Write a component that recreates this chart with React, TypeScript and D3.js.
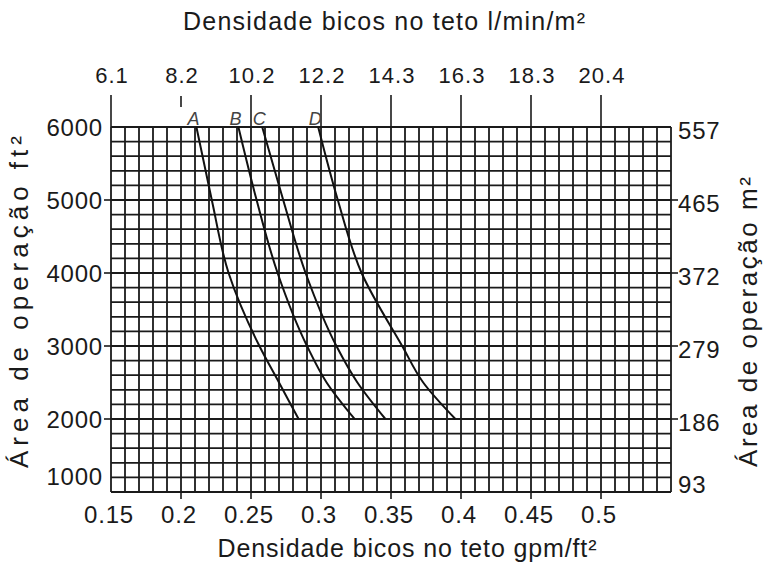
import React from "react";
import * as d3 from "d3";

// ---- data ----
const gpmTicks = [0.15, 0.2, 0.25, 0.3, 0.35, 0.4, 0.45, 0.5];
const gpmLabels = ["0.15", "0.2", "0.25", "0.3", "0.35", "0.4", "0.45", "0.5"];
const lpmLabels = ["6.1", "8.2", "10.2", "12.2", "14.3", "16.3", "18.3", "20.4"];
const areaTicks = [6000, 5000, 4000, 3000, 2000, 1000];
const areaLabels = ["6000", "5000", "4000", "3000", "2000", "1000"];
const m2Labels = ["557", "465", "372", "279", "186", "93"];

const curveNames = ["A", "B", "C", "D"];
const curveArea = [6000, 5000, 4000, 3000, 2500, 2000];
const curveA = [0.211, 0.222, 0.234, 0.256, 0.27, 0.284];
const curveB = [0.241, 0.254, 0.269, 0.29, 0.304, 0.324];
const curveC = [0.258, 0.273, 0.289, 0.311, 0.326, 0.346];
const curveD = [0.298, 0.312, 0.329, 0.358, 0.373, 0.396];
const curves = [curveA, curveB, curveC, curveD];

// ---- layout ----
const W = 767;
const H = 565;
const L = 111;
const R = 671;
const T = 127;
const B = 492;
const FONT = "'Liberation Sans', Arial, sans-serif";
const INK = "#1a1a1a";

export default function App() {
  const x = d3.scaleLinear().domain([0.15, 0.55]).range([L, R]);
  const y = d3.scaleLinear().domain([1000, 6000]).range([B, T]);

  const vGrid = d3.range(0, 41).map((i) => x(0.15 + i * 0.01));
  const hGrid = d3.range(0, 26).map((i) => y(1000 + i * 200));

  const line = d3
    .line<[number, number]>()
    .x((d) => x(d[0]))
    .y((d) => y(d[1]))
    .curve(d3.curveMonotoneY);

  return (
    <svg
      width={W}
      height={H}
      style={{ position: "absolute", left: 0, top: 0, background: "#fff" }}
      fontFamily={FONT}
    >
      <rect x={0} y={0} width={W} height={H} fill="#fff" />
      {/* grid */}
      <g stroke={INK} strokeWidth={1.8}>
        {vGrid.map((gx, i) => (
          <line key={"v" + i} x1={gx} x2={gx} y1={T} y2={B} />
        ))}
        {hGrid.map((gy, i) => (
          <line key={"h" + i} x1={L} x2={R} y1={gy} y2={gy} />
        ))}
      </g>

      {/* axis ticks */}
      <g stroke={INK} strokeWidth={1.6}>
        {gpmTicks.map((t, i) =>
          i === 1 ? (
            <line key={"tt" + i} x1={x(t)} x2={x(t)} y1={96} y2={107} />
          ) : (
            <line key={"tt" + i} x1={x(t)} x2={x(t)} y1={95} y2={T} />
          )
        )}
        {gpmTicks.slice(1).map((t, i) => (
          <line key={"bt" + i} x1={x(t)} x2={x(t)} y1={B} y2={B + 7} />
        ))}
        {areaTicks.slice(1, 5).map((t, i) => (
          <line key={"lt" + i} x1={L - 7} x2={L} y1={y(t)} y2={y(t)} />
        ))}
        {areaTicks.slice(1, 5).map((t, i) => (
          <line key={"rt" + i} x1={R} x2={R + 7} y1={y(t)} y2={y(t)} />
        ))}
      </g>

      {/* curves */}
      <g fill="none" stroke="#111" strokeWidth={2}>
        {curves.map((c, i) => (
          <path
            key={"c" + i}
            d={line(c.map((v, j) => [v, curveArea[j]] as [number, number])) || ""}
          />
        ))}
      </g>
      {curves.map((c, i) => (
        <text
          key={"n" + i}
          x={x(c[0]) - 3}
          y={125}
          fontSize={18}
          fontStyle="italic"
          fill="#444"
          textAnchor="middle"
        >
          {curveNames[i]}
        </text>
      ))}

      <g fill={INK}>
        {/* top labels */}
        {gpmTicks.map((t, i) => (
          <text key={"tl" + i} x={x(t) + 1} y={83} fontSize={22} letterSpacing={1} textAnchor="middle">
            {lpmLabels[i]}
          </text>
        ))}
        {/* bottom labels */}
        {gpmTicks.map((t, i) => (
          <text key={"bl" + i} x={x(t) - 2} y={523} fontSize={24} letterSpacing={0.8} textAnchor="middle">
            {gpmLabels[i]}
          </text>
        ))}
        {/* left labels */}
        {areaTicks.map((t, i) => (
          <text
            key={"ll" + i}
            x={103}
            y={Math.min(y(t), B - 16) + 9}
            fontSize={24}
            letterSpacing={0.8}
            textAnchor="end"
          >
            {areaLabels[i]}
          </text>
        ))}
        {/* right labels */}
        {areaTicks.map((t, i) => (
          <text
            key={"rl" + i}
            x={678}
            y={Math.min(y(t) + 3, B - 8) + 9}
            fontSize={24}
            letterSpacing={0.8}
            textAnchor="start"
          >
            {m2Labels[i]}
          </text>
        ))}

        {/* titles */}
        <text x={384} y={30} fontSize={25} textAnchor="middle" textLength={402} lengthAdjust="spacing">
          Densidade bicos no teto l/min/m²
        </text>
        <text x={407} y={557} fontSize={25} textAnchor="middle" textLength={379} lengthAdjust="spacing">
          Densidade bicos no teto gpm/ft²
        </text>
        <text
          transform="translate(28,302) rotate(-90)"
          fontSize={26}
          textAnchor="middle"
          textLength={332}
          lengthAdjust="spacing"
        >
          Área de operação ft²
        </text>
        <text
          transform="translate(757,322) rotate(-90)"
          fontSize={26}
          textAnchor="middle"
          textLength={290}
          lengthAdjust="spacing"
        >
          Área de operação m²
        </text>
      </g>
    </svg>
  );
}
